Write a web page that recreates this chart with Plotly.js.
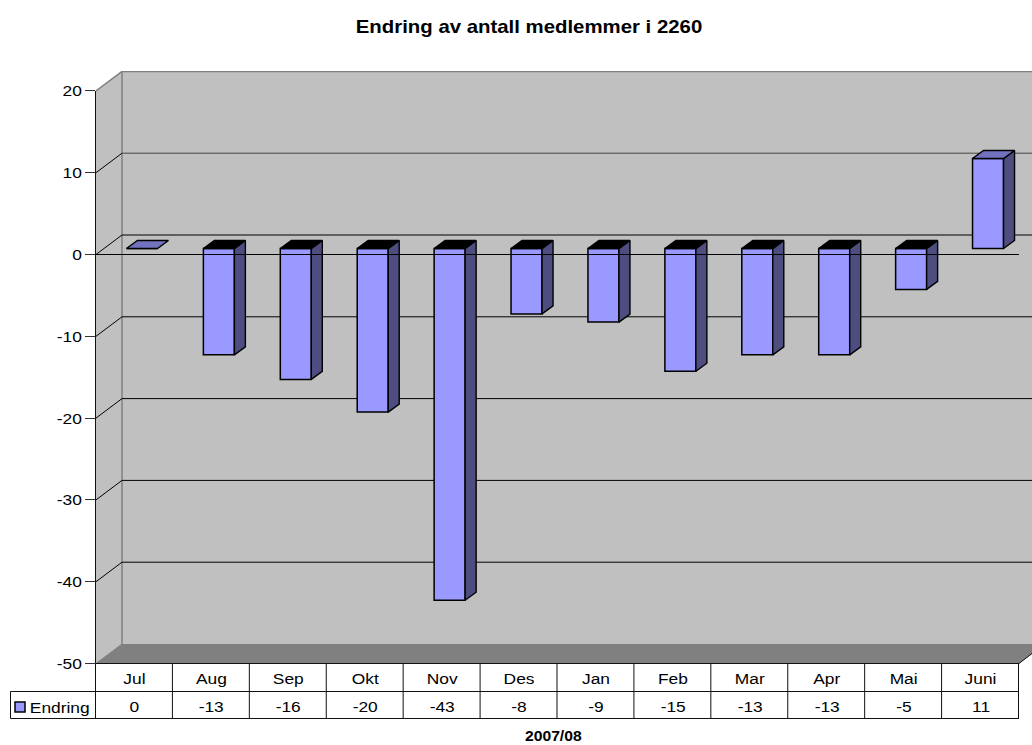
<!DOCTYPE html>
<html><head><meta charset="utf-8">
<script src="https://cdn.plot.ly/plotly-3.0.1.min.js"></script>
<style>html,body{margin:0;padding:0;background:#fff}#c{width:1032px;height:745px}</style>
</head><body><div id="c"></div>
<script>
// ---- data ----
const months = ["Jul","Aug","Sep","Okt","Nov","Des","Jan","Feb","Mar","Apr","Mai","Juni"];
const endring = [0,-13,-16,-20,-43,-8,-9,-15,-13,-13,-5,11];
const yTicks = [20,10,0,-10,-20,-30,-40,-50];
const seriesName = "Endring";
const chartTitle = "Endring av antall medlemmer i 2260";
const xTitle = "2007/08";

// ---- layout constants (pixels of the 1032x745 page) ----
const W=1032,H=745, L=96,R=0,T=71,B=81;
const pw=W-L-R, ph=H-T-B;
const catPx=923/12, valPx=8.18;
const dx=px=>px/catPx, dy=px=>px/valPx;        // pixel lengths -> axis units
const xMax=pw/catPx, yMax=(254.5-T)/valPx, yMinRange=yMax-ph/valPx, yFloor=-50;
const wallDX=dx(26), wallDY=dy(19.5);           // depth of the whole box
const barDX=dx(11), barDY=dy(8);                // depth of one bar
const barW=dx(31), barShiftX=dx(7.5), barBase=dy(6);
const px2X=p=>(p-L)/pw, py2Y=p=>1-(p-T)/ph;     // page px -> paper
const FONT="Liberation Sans", TXT=15.5, STRETCH=1.12;

const FRONT="#9999ff", TOPC="#7272bf", SIDE="#4d4d80", WALL="#c0c0c0", FLOOR="#808080";

// ---- 3D faces of the bars, derived from the values ----
const centers=months.map((m,i)=>i+0.5+barShiftX);
function poly(list){const x=[],y=[];list.forEach(p=>{p.forEach(q=>{x.push(q[0]);y.push(q[1]);});x.push(p[0][0]);y.push(p[0][1]);x.push(null);y.push(null);});return {x,y};}
const topsLit=[],topsDark=[],sides=[];
endring.forEach((v,i)=>{
  const l=centers[i]-barW/2,r=centers[i]+barW/2;
  const hi=Math.max(v,0)+barBase, lo=Math.min(v,0)+barBase;
  const top=[[l,hi],[l+barDX,hi+barDY],[r+barDX,hi+barDY],[r,hi]];
  (v<0?topsDark:topsLit).push(top);
  if(v!==0) sides.push([[r,hi],[r+barDX,hi+barDY],[r+barDX,lo+barDY],[r,lo]]);
});
const face=(list,color)=>Object.assign({type:"scatter",mode:"lines",fill:"toself",fillcolor:color,
  line:{color:"#000",width:1.4},hoverinfo:"skip",showlegend:false},poly(list));

const traces=[
 {type:"bar",name:seriesName,x:centers,y:endring,base:endring.map(()=>barBase),width:barW,
  marker:{color:FRONT,line:{color:"#000",width:1.5}},showlegend:false},
 face(sides,SIDE),face(topsDark,"#000"),face(topsLit,TOPC)
];

// ---- walls, floor and grid ----
const shapes=[];
const pathOf=pts=>"M"+pts.map(p=>p[0]+","+p[1]).join("L")+"Z";
shapes.push({type:"path",layer:"below",xref:"x",yref:"y",path:pathOf([[0,yFloor],[wallDX,yFloor+wallDY],[wallDX,20+wallDY],[0,20]]),fillcolor:WALL,line:{width:0}});
shapes.push({type:"rect",layer:"below",xref:"x",yref:"y",x0:wallDX,x1:xMax,y0:yFloor+wallDY,y1:20+wallDY,fillcolor:WALL,line:{width:0}});
shapes.push({type:"path",layer:"below",xref:"x",yref:"y",path:pathOf([[0,yFloor],[wallDX,yFloor+wallDY],[12+wallDX,yFloor+wallDY],[12,yFloor]]),fillcolor:FLOOR,line:{width:0}});
const seg=(x0,y0,x1,y1,c,w,layer)=>shapes.push({type:"line",layer:layer||"below",xref:"x",yref:"y",x0,y0,x1,y1,line:{color:c,width:w||1}});
seg(wallDX,yFloor+wallDY,wallDX,20+wallDY,FLOOR,1.5);
seg(wallDX,20+wallDY,xMax,20+wallDY,FLOOR,1.5);
seg(0,20,wallDX,20+wallDY,FLOOR,1.5);
seg(0,yFloor,wallDX,yFloor+wallDY,FLOOR,1);
yTicks.forEach(v=>{
  if(v===20||v===-50) return;
  seg(0,v,wallDX,v+wallDY,"#000",1);
  seg(wallDX,v+wallDY,xMax,v+wallDY,v===10?"#444":"#000",1);
});
seg(0,0,12,0,"#000",1,"above");     // front zero line runs across the bars

// ---- y axis line and data table below the plot ----
const tbl=(x0,y0,x1,y1)=>shapes.push({type:"line",xref:"paper",yref:"paper",x0:px2X(x0),x1:px2X(x1),y0:py2Y(y0),y1:py2Y(y1),line:{color:"#111",width:1}});
const tableLeft=10.5,tableRight=1019,row0=663.5,row1=691.5,row2=718.5;
tbl(95.5,T+(yMax-20)*valPx,95.5,row0);
tbl(95.5,row0,tableRight,row0); tbl(tableLeft,row1,tableRight,row1); tbl(tableLeft,row2,tableRight,row2);
tbl(tableLeft,row1,tableLeft,row2);
months.concat("").forEach((m,i)=>{const p=95.5+i*catPx; tbl(p,row0,p,row2);});
tbl(tableRight,row0,W,653.5);
// legend key of the table
shapes.push({type:"rect",xref:"paper",yref:"paper",x0:px2X(15),x1:px2X(25),y0:py2Y(712),y1:py2Y(702),fillcolor:FRONT,line:{color:"#000",width:1.5}});

const annotations=endring.map((v,i)=>({xref:"x",yref:"paper",x:i+0.5,y:py2Y(706),text:String(v),showarrow:false,
  xanchor:"center",yanchor:"middle",font:{family:FONT,size:TXT,color:"#000"}}));
annotations.push({xref:"paper",yref:"paper",x:px2X(30.5),y:py2Y(707),text:seriesName,showarrow:false,
  xanchor:"left",yanchor:"middle",font:{family:FONT,size:TXT,color:"#000"}});
annotations.push({xref:"paper",yref:"paper",x:px2X(553),y:py2Y(736),text:"<b>"+xTitle+"</b>",showarrow:false,
  xanchor:"center",yanchor:"middle",font:{family:FONT,size:14,color:"#000"}});

Plotly.newPlot("c",traces,{
  width:W,height:H,margin:{l:L,r:R,t:T,b:B,pad:0},
  paper_bgcolor:"#fff",plot_bgcolor:"#fff",
  title:{text:"<b>"+chartTitle+"</b>",x:529/W,xanchor:"center",y:1-27/H,yanchor:"middle",font:{family:FONT,size:18.2,color:"#000"}},
  font:{family:FONT,size:TXT,color:"#000"},
  barmode:"overlay",showlegend:false,
  xaxis:{range:[0,xMax],tickmode:"array",tickvals:months.map((m,i)=>i+0.5),ticktext:months,showgrid:false,zeroline:false,
    showline:false,ticks:"outside",ticklen:0,tickcolor:"rgba(0,0,0,0)",tickfont:{family:FONT,size:TXT,color:"#000"}},
  yaxis:{range:[yMinRange,yMax],tickmode:"array",tickvals:yTicks,ticktext:yTicks.map(String),showgrid:false,zeroline:false,
    showline:false,ticks:"outside",ticklen:10,tickwidth:1,tickcolor:"#333",
    tickfont:{family:FONT,size:TXT,color:"#000"}},
  shapes,annotations
},{displayModeBar:false,staticPlot:true}).then(()=>{
  // the reference's lettering is slightly wider than the font's natural proportions
  document.querySelectorAll("#c svg text").forEach(t=>{
    const w=t.getComputedTextLength();
    if(w>0){t.setAttribute("textLength",w*STRETCH);t.setAttribute("lengthAdjust","spacingAndGlyphs");}
  });
});
</script></body></html>
